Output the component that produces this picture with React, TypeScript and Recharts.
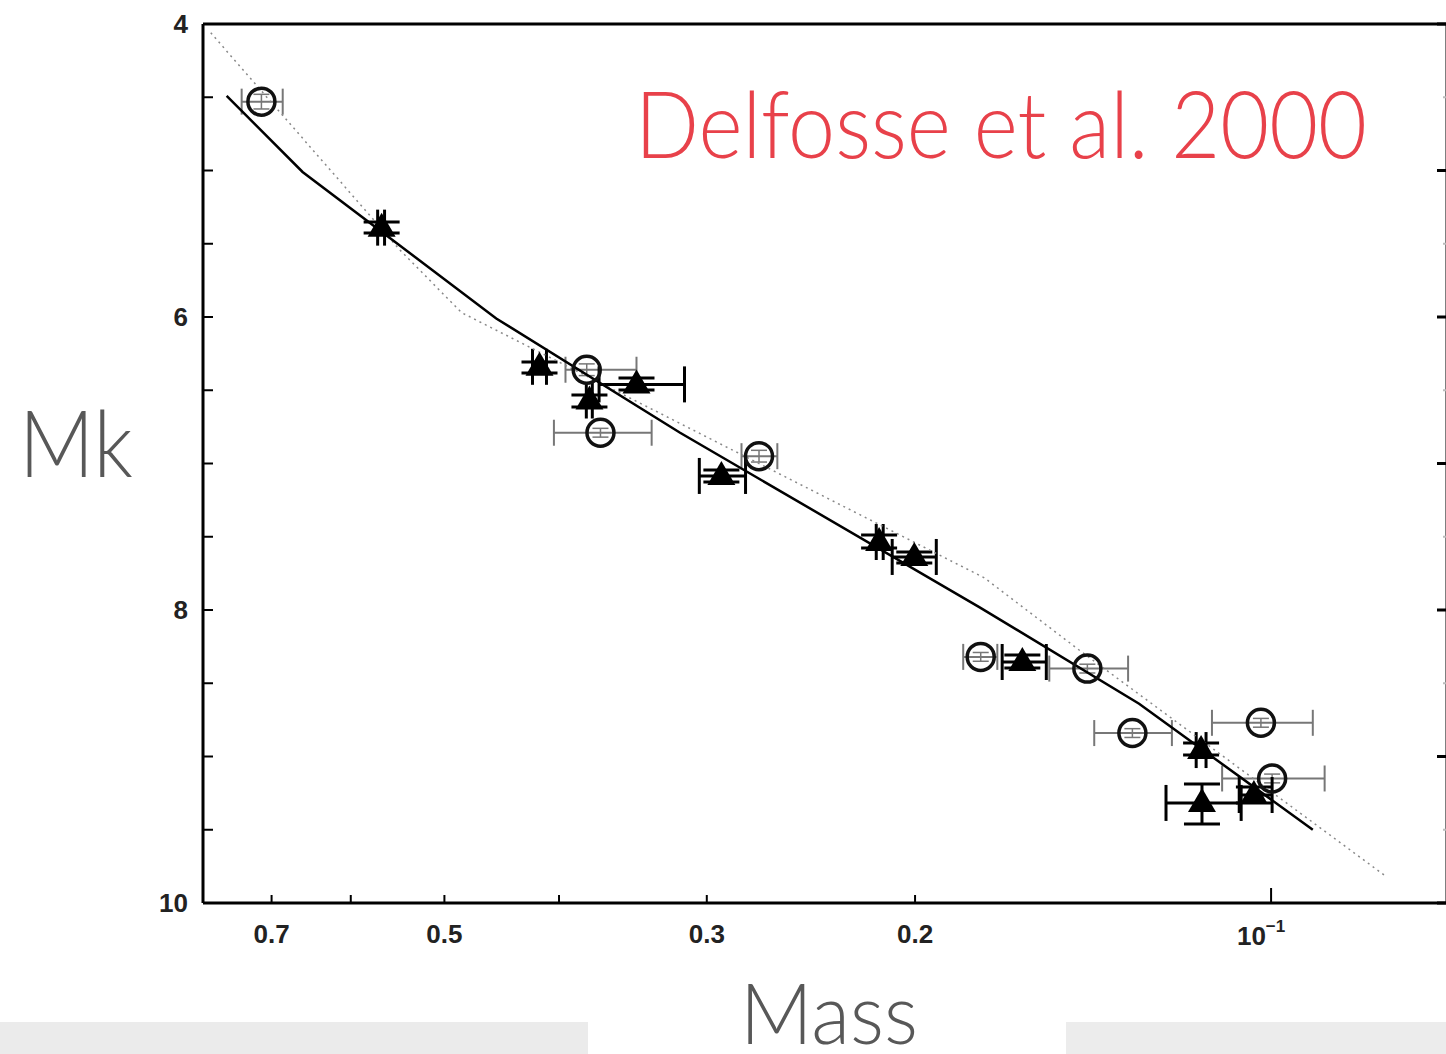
import React from "react";
import { ScatterChart, Scatter, XAxis, YAxis, ErrorBar, Label } from "recharts";

// open circles (mass in Msun, absolute K magnitude)
const circleMass = [0.714, 0.379, 0.369, 0.271, 0.176, 0.143, 0.131, 0.102, 0.0998];
const circleMk = [4.53, 6.36, 6.79, 6.95, 8.32, 8.4, 8.84, 8.77, 9.15];
const circleMassLow = [0.685, 0.344, 0.334, 0.2615, 0.1704, 0.1321, 0.1213, 0.0922, 0.0901];
const circleMassHigh = [0.742, 0.395, 0.404, 0.2804, 0.1821, 0.154, 0.1411, 0.1122, 0.11];
const circleMkErr = [0.05, 0.04, 0.03, 0.04, 0.03, 0.03, 0.03, 0.03, 0.03];

// filled triangles
const triMass = [0.565, 0.4155, 0.377, 0.344, 0.2916, 0.2145, 0.2003, 0.1623, 0.1146, 0.1144, 0.1034];
const triMk = [5.39, 6.34, 6.57, 6.46, 7.085, 7.536, 7.638, 8.355, 8.956, 9.317, 9.263];
const triMassLow = [0.5618, 0.4099, 0.3749, 0.3133, 0.2782, 0.2128, 0.1919, 0.1549, 0.1135, 0.106, 0.0998];
const triMassHigh = [0.5694, 0.4212, 0.3793, 0.37, 0.3044, 0.2157, 0.2091, 0.1688, 0.1157, 0.1227, 0.1064];
const triMkLow = [5.352, 6.307, 6.532, 6.416, 7.044, 7.488, 7.604, 8.307, 8.908, 9.188, 9.208];
const triMkHigh = [5.427, 6.382, 6.614, 6.498, 7.126, 7.577, 7.679, 8.396, 8.99, 9.461, 9.317];

// relations
const solidMass = [0.764, 0.659, 0.452, 0.316, 0.1765, 0.1293, 0.0922];
const solidMk = [4.49, 5.01, 6.01, 6.79, 7.98, 8.64, 9.5];
const dottedMass = [0.788, 0.5456, 0.4836, 0.1748, 0.1444, 0.0799];
const dottedMk = [4.06, 5.54, 5.97, 7.78, 8.29, 9.82];

const massTicks = [0.7, 0.6, 0.5, 0.4, 0.3, 0.2, 0.1];
const massLabeled = [0.7, 0.5, 0.3, 0.2];
const mkTicks = [4, 4.5, 5, 5.5, 6, 6.5, 7, 7.5, 8, 8.5, 9, 9.5, 10];
const mkLabeled = [4, 6, 8, 10];

const circles = circleMass.map((m, i) => ({
  m,
  mk: circleMk[i],
  ex: [m - circleMassLow[i], circleMassHigh[i] - m],
  ey: circleMkErr[i],
}));
const triangles = triMass.map((m, i) => ({
  m,
  mk: triMk[i],
  ex: [m - triMassLow[i], triMassHigh[i] - m],
  ey: [triMk[i] - triMkLow[i], triMkHigh[i] - triMk[i]],
}));
const solidLine = solidMass.map((m, i) => ({ m, mk: solidMk[i] }));
const dottedLine = dottedMass.map((m, i) => ({ m, mk: dottedMk[i] }));

const tickFont = { fontFamily: "Liberation Sans, Arial, sans-serif", fontWeight: 700, fontSize: 26, fill: "#222" };
const lightFont = "Lato, 'Open Sans', sans-serif";

const BottomTick = (props: any) => {
  const { x, y, payload } = props;
  const v = payload.value;
  const len = v === 0.1 ? 15 : 8;
  return (
    <g>
      <line x1={x} y1={y} x2={x} y2={y - len} stroke="#000" strokeWidth={2} />
      {massLabeled.includes(v) && (
        <text x={x} y={y + 40} textAnchor="middle" {...tickFont}>
          {String(v)}
        </text>
      )}
      {v === 0.1 && (
        <text x={x - 10} y={y + 42} textAnchor="middle" {...tickFont}>
          10
          <tspan dy={-13} fontSize={17}>
            −1
          </tspan>
        </text>
      )}
    </g>
  );
};

const TopTick = (props: any) => {
  const { x, y, payload } = props;
  const len = payload.value === 0.1 ? 15 : 8;
  return <line x1={x} y1={y} x2={x} y2={y + len} stroke="#000" strokeWidth={2} />;
};

const LeftTick = (props: any) => {
  const { x, y, payload } = props;
  const v = payload.value;
  return (
    <g>
      <line x1={x} y1={y} x2={x + 10} y2={y} stroke="#000" strokeWidth={2} />
      {mkLabeled.includes(v) && (
        <text x={x - 15} y={y + 9} textAnchor="end" {...tickFont}>
          {String(v)}
        </text>
      )}
    </g>
  );
};

const RightTick = (props: any) => {
  const { x, y, payload } = props;
  const major = Number.isInteger(payload.value);
  return (
    <line
      x1={x}
      y1={y}
      x2={x - (major ? 10 : 4)}
      y2={y}
      stroke={major ? "#000" : "#bbb"}
      strokeWidth={major ? 3 : 2}
    />
  );
};

const OpenCircle = (props: any) => (
  <circle cx={props.cx} cy={props.cy} r={13.5} fill="none" stroke="#111" strokeWidth={3.5} />
);

const FilledTriangle = (props: any) => {
  const { cx, cy } = props;
  return <polygon points={`${cx},${cy - 15} ${cx - 14},${cy + 9} ${cx + 14},${cy + 9}`} fill="#000" />;
};

const NoDot = () => <g />;

export default function App() {
  return (
    <div style={{ position: "absolute", left: 0, top: 0, width: 1446, height: 1054, overflow: "hidden", background: "#fff" }}>
      <div style={{ position: "absolute", left: 0, top: 1022, width: 588, height: 32, background: "#ebebeb" }} />
      <div style={{ position: "absolute", left: 1066, top: 1022, width: 380, height: 32, background: "#ececec" }} />
      <div style={{ position: "absolute", left: 0, top: 0 }}>
        <ScatterChart width={1460} height={1054} margin={{ top: 0, right: 0, bottom: 0, left: 0 }}>
          <XAxis
            dataKey="m"
            type="number"
            scale="log"
            domain={[0.071, 0.8]}
            allowDataOverflow
            reversed
            ticks={massTicks}
            interval={0}
            tickSize={0}
            tickMargin={0}
            tick={<BottomTick />}
            tickLine={false}
            height={151}
            axisLine={{ stroke: "#000", strokeWidth: 3 }}
          >
            <Label
              content={() => (
                <text x={740} y={1044} fontFamily={lightFont} fontWeight={300} fontSize={84} fill="#585858" textLength={178} lengthAdjust="spacingAndGlyphs">
                  Mass
                </text>
              )}
            />
          </XAxis>
          <XAxis
            xAxisId="top"
            orientation="top"
            type="number"
            scale="log"
            domain={[0.071, 0.8]}
            allowDataOverflow
            reversed
            ticks={massTicks}
            interval={0}
            tickSize={0}
            tickMargin={0}
            tick={<TopTick />}
            tickLine={false}
            height={24}
            axisLine={{ stroke: "#000", strokeWidth: 3 }}
          >
            <Label
              content={() => (
                <text x={635} y={158} fontFamily={lightFont} fontWeight={300} fontSize={92} fill="#e8414a" textLength={732} lengthAdjust="spacingAndGlyphs">
                  Delfosse et al. 2000
                </text>
              )}
            />
          </XAxis>
          <YAxis
            dataKey="mk"
            type="number"
            domain={[4, 10]}
            allowDataOverflow
            reversed
            ticks={mkTicks}
            interval={0}
            tickSize={0}
            tickMargin={0}
            tick={<LeftTick />}
            tickLine={false}
            width={203}
            axisLine={{ stroke: "#000", strokeWidth: 3 }}
          >
            <Label
              content={() => (
                <text x={19} y={477} fontFamily={lightFont} fontWeight={300} fontSize={92} fill="#585858" textLength={114} lengthAdjust="spacingAndGlyphs">
                  Mk
                </text>
              )}
            />
          </YAxis>
          <YAxis
            yAxisId="right"
            orientation="right"
            type="number"
            domain={[4, 10]}
            allowDataOverflow
            reversed
            ticks={mkTicks}
            interval={0}
            tickSize={0}
            tickMargin={0}
            tick={<RightTick />}
            tickLine={false}
            width={13}
            axisLine={{ stroke: "#000", strokeWidth: 3 }}
          />

          <Scatter
            data={dottedLine}
            line={{ stroke: "#888", strokeWidth: 1.5, strokeDasharray: "2 4" }}
            shape={<NoDot />}
            isAnimationActive={false}
          />
          <Scatter
            data={solidLine}
            line={{ stroke: "#000", strokeWidth: 2.5 }}
            shape={<NoDot />}
            isAnimationActive={false}
          />
          <Scatter data={circles} shape={<OpenCircle />} isAnimationActive={false}>
            <ErrorBar dataKey="ex" direction="x" width={13} stroke="#777" strokeWidth={2} isAnimationActive={false} />
            <ErrorBar dataKey="ey" direction="y" width={8} stroke="#777" strokeWidth={1.5} isAnimationActive={false} />
          </Scatter>
          <Scatter data={triangles} shape={<FilledTriangle />} isAnimationActive={false}>
            <ErrorBar dataKey="ex" direction="x" width={18} stroke="#000" strokeWidth={3} isAnimationActive={false} />
            <ErrorBar dataKey="ey" direction="y" width={18} stroke="#000" strokeWidth={3} isAnimationActive={false} />
          </Scatter>
        </ScatterChart>
      </div>
    </div>
  );
}
